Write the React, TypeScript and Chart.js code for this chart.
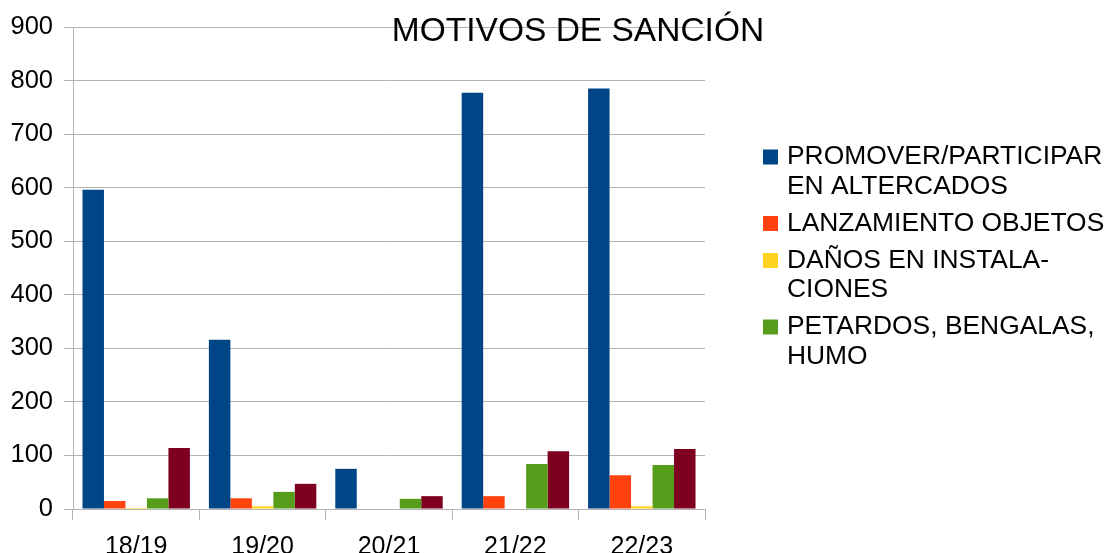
import { useEffect, useRef } from 'react';
import { Chart, registerables } from 'chart.js';

Chart.register(...registerables);

const categories = ['18/19', '19/20', '20/21', '21/22', '22/23'];
const promover = [596, 316, 75, 777, 785];
const lanzamiento = [15, 20, 0, 24, 63];
const danos = [2, 5, 0, 0, 5];
const petardos = [20, 32, 19, 84, 82];
const otros = [114, 47, 24, 108, 112];

const seriesLabels: string[][] = [
  ['PROMOVER/PARTICIPAR', 'EN ALTERCADOS'],
  ['LANZAMIENTO OBJETOS'],
  ['DAÑOS EN INSTALA-', 'CIONES'],
  ['PETARDOS, BENGALAS,', 'HUMO'],
  ['OTROS'],
];
const legendCount = 4;
const colors = ['#004586', '#ff420e', '#ffd320', '#579d1c', '#7e0021'];
const titleText = 'MOTIVOS DE SANCIÓN';
const yMin = 0;
const yMax = 900;
const yStep = 100;

const FONT = "'Liberation Sans', Arial, sans-serif";
const GRID = '#b3b3b3';

const overlayPlugin = {
  id: 'overlay',
  afterDraw(chart: any) {
    const ctx = chart.ctx;
    const area = chart.chartArea;
    ctx.save();
    // title
    ctx.fillStyle = '#000';
    ctx.font = `33.5px ${FONT}`;
    ctx.textAlign = 'center';
    ctx.textBaseline = 'middle';
    ctx.fillText(titleText, 578, 32);
    // legend
    ctx.font = `26.4px ${FONT}`;
    ctx.textAlign = 'left';
    const lineH = 29.5;
    const gap = 7.5;
    let y = 157;
    const boxX = area.right + 58;
    const textX = area.right + 82;
    chart.data.datasets.slice(0, legendCount).forEach((ds: any, i: number) => {
      const lines: string[] = seriesLabels[i];
      ctx.fillStyle = ds.backgroundColor;
      ctx.fillRect(boxX, y - 7.5, 15, 15);
      ctx.fillStyle = '#000';
      lines.forEach((ln, j) => ctx.fillText(ln, textX, y + j * lineH));
      y += lines.length * lineH + gap;
    });
    ctx.restore();
  },
};

export default function App() {
  const ref = useRef<HTMLCanvasElement>(null);
  useEffect(() => {
    if (!ref.current) return;
    const chart = new Chart(ref.current, {
      type: 'bar',
      data: {
        labels: categories,
        datasets: [promover, lanzamiento, danos, petardos, otros].map((d, i) => ({
          label: seriesLabels[i].join(' '),
          data: d,
          backgroundColor: colors[i],
          borderWidth: 0,
          categoryPercentage: 0.85,
          barPercentage: 1,
        })),
      },
      options: {
        animation: false,
        responsive: false,
        layout: { padding: { top: 27, right: 402, left: 0, bottom: 0 } },
        plugins: {
          legend: { display: false },
          title: { display: false },
          tooltip: { enabled: false },
        },
        scales: {
          x: {
            offset: true,
            grid: {
              offset: true,
              color: (c: any) => (c.index === categories.length ? GRID : 'rgba(0,0,0,0)'),
              tickColor: GRID,
              tickLength: 11,
              lineWidth: 1,
            },
            border: { display: true, color: GRID },
            ticks: { color: '#000', font: { family: FONT, size: 25 }, padding: 12, maxRotation: 0 },
            afterFit: (s: any) => { s.height = 44; },
          },
          y: {
            min: yMin,
            max: yMax,
            ticks: { stepSize: yStep, color: '#000', font: { family: FONT, size: 25.5 }, padding: 11 },
            grid: { color: GRID, tickLength: 9, lineWidth: 1 },
            border: { display: true, color: GRID },
            afterFit: (s: any) => { s.width = 73; },
          },
        },
      },
      plugins: [overlayPlugin],
    });
    return () => chart.destroy();
  }, []);
  return (
    <canvas
      ref={ref}
      width={1107}
      height={553}
      style={{ position: 'absolute', left: 0, top: 0, width: 1107, height: 553 }}
    />
  );
}
